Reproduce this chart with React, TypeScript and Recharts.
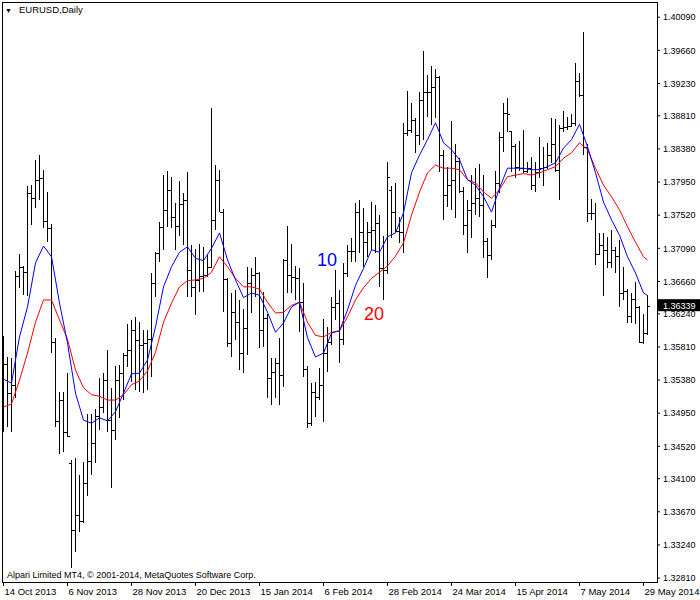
import React from 'react'
import {
  ComposedChart, Bar, Line, XAxis, YAxis, ReferenceLine, ReferenceDot,
} from 'recharts'

const FONT = '"Liberation Sans", Arial, sans-serif'

// date labels sit every 16 bars
const tickBars = [0, 16, 32, 48, 64, 80, 96, 112, 128, 144, 160]
const tickDates = [
  '14 Oct 2013', '6 Nov 2013', '28 Nov 2013', '20 Dec 2013', '15 Jan 2014', '6 Feb 2014',
  '28 Feb 2014', '24 Mar 2014', '15 Apr 2014', '7 May 2014', '29 May 2014',
]
const priceTicks = [
  1.40090, 1.39660, 1.39230, 1.38810, 1.38380, 1.37950, 1.37520, 1.37090, 1.36660,
  1.36240, 1.35810, 1.35380, 1.34950, 1.34520, 1.34100, 1.33670, 1.33240, 1.32810,
]
const lastPrice = 1.36339

const opens = [
  1.3512, 1.3559, 1.3521, 1.3532, 1.3673, 1.3685, 1.3678, 1.3781, 1.3774, 1.3798,
  1.3800, 1.3744, 1.3735, 1.3587, 1.3485, 1.3512, 1.3471, 1.3430, 1.3343, 1.3363,
  1.3355, 1.3404, 1.3433, 1.3456, 1.3491, 1.3503, 1.3538, 1.3486, 1.3473, 1.3538,
  1.3547, 1.3571, 1.3577, 1.3603, 1.3590, 1.3584, 1.3586, 1.3591, 1.3664, 1.3703,
  1.3737, 1.3759, 1.3785, 1.3750, 1.3738, 1.3767, 1.3772, 1.3681, 1.3659, 1.3668,
  1.3673, 1.3674, 1.3685, 1.3746, 1.3798, 1.3756, 1.3669, 1.3586, 1.3626, 1.3613,
  1.3573, 1.3606, 1.3664, 1.3674, 1.3677, 1.3603, 1.3619, 1.3541, 1.3548, 1.3560,
  1.3545, 1.3694, 1.3674, 1.3672, 1.3670, 1.3639, 1.3552, 1.3482, 1.3523, 1.3516,
  1.3532, 1.3573, 1.3587, 1.3633, 1.3638, 1.3591, 1.3677, 1.3706, 1.3706, 1.3756,
  1.3730, 1.3717, 1.3730, 1.3733, 1.3742, 1.3683, 1.3681, 1.3785, 1.3756, 1.3731,
  1.3730, 1.3859, 1.3863, 1.3876, 1.3856, 1.3902, 1.3912, 1.3912, 1.3918, 1.3931,
  1.3830, 1.3778, 1.3791, 1.3798, 1.3822, 1.3783, 1.3739, 1.3759, 1.3768, 1.3774,
  1.3765, 1.3719, 1.3700, 1.3739, 1.3794, 1.3854, 1.3885, 1.3861, 1.3842, 1.3815,
  1.3813, 1.3809, 1.3813, 1.3791, 1.3808, 1.3813, 1.3815, 1.3830, 1.3844, 1.3811,
  1.3865, 1.3866, 1.3868, 1.3872, 1.3926, 1.3908, 1.3841, 1.3755, 1.3755, 1.3702,
  1.3713, 1.3707, 1.3691, 1.3707, 1.3699, 1.3651, 1.3654, 1.3621, 1.3643, 1.3633,
  1.3587, 1.3599,
]
const highs = [
  1.3595, 1.3568, 1.3567, 1.3680, 1.3702, 1.3686, 1.3790, 1.3791, 1.3824, 1.3830,
  1.3811, 1.3782, 1.3740, 1.3592, 1.3523, 1.3523, 1.3547, 1.3434, 1.3437, 1.3415,
  1.3432, 1.3494, 1.3494, 1.3500, 1.3541, 1.3547, 1.3577, 1.3528, 1.3556, 1.3558,
  1.3573, 1.3611, 1.3616, 1.3620, 1.3613, 1.3603, 1.3603, 1.3677, 1.3704, 1.3743,
  1.3804, 1.3809, 1.3802, 1.3768, 1.3796, 1.3781, 1.3808, 1.3713, 1.3708, 1.3715,
  1.3711, 1.3700, 1.3891, 1.3817, 1.3811, 1.3760, 1.3670, 1.3651, 1.3655, 1.3642,
  1.3630, 1.3685, 1.3683, 1.3698, 1.3678, 1.3652, 1.3624, 1.3567, 1.3567, 1.3593,
  1.3695, 1.3738, 1.3715, 1.3686, 1.3683, 1.3664, 1.3556, 1.3534, 1.3536, 1.3554,
  1.3617, 1.3607, 1.3646, 1.3681, 1.3655, 1.3690, 1.3713, 1.3722, 1.3768, 1.3772,
  1.3761, 1.3743, 1.3769, 1.3765, 1.3752, 1.3725, 1.3821, 1.3790, 1.3794, 1.3750,
  1.3872, 1.3913, 1.3898, 1.3878, 1.3912, 1.3965, 1.3934, 1.3946, 1.3942, 1.3933,
  1.3837, 1.3815, 1.3874, 1.3844, 1.3826, 1.3789, 1.3772, 1.3804, 1.3813, 1.3818,
  1.3804, 1.3722, 1.3746, 1.3809, 1.3860, 1.3898, 1.3904, 1.3861, 1.3845, 1.3848,
  1.3863, 1.3821, 1.3828, 1.3821, 1.3854, 1.3841, 1.3846, 1.3878, 1.3877, 1.3869,
  1.3887, 1.3879, 1.3883, 1.3950, 1.3937, 1.3990, 1.3845, 1.3773, 1.3768, 1.3729,
  1.3729, 1.3724, 1.3733, 1.3711, 1.3720, 1.3685, 1.3656, 1.3651, 1.3665, 1.3634,
  1.3624, 1.3648,
]
const lows = [
  1.3471, 1.3477, 1.3471, 1.3515, 1.3658, 1.3648, 1.3647, 1.3739, 1.3761, 1.3772,
  1.3735, 1.3717, 1.3573, 1.3477, 1.3442, 1.3445, 1.3464, 1.3294, 1.3315, 1.3341,
  1.3352, 1.3388, 1.3415, 1.3430, 1.3473, 1.3495, 1.3471, 1.3398, 1.3460, 1.3489,
  1.3512, 1.3555, 1.3536, 1.3525, 1.3523, 1.3521, 1.3525, 1.3542, 1.3646, 1.3691,
  1.3707, 1.3737, 1.3735, 1.3707, 1.3725, 1.3713, 1.3646, 1.3646, 1.3622, 1.3652,
  1.3652, 1.3672, 1.3683, 1.3733, 1.3756, 1.3626, 1.3581, 1.3568, 1.3590, 1.3551,
  1.3547, 1.3571, 1.3625, 1.3646, 1.3580, 1.3581, 1.3515, 1.3506, 1.3515, 1.3506,
  1.3529, 1.3651, 1.3651, 1.3642, 1.3600, 1.3542, 1.3476, 1.3478, 1.3490, 1.3512,
  1.3484, 1.3548, 1.3584, 1.3616, 1.3560, 1.3584, 1.3672, 1.3691, 1.3691, 1.3703,
  1.3685, 1.3698, 1.3707, 1.3703, 1.3659, 1.3642, 1.3676, 1.3722, 1.3729, 1.3716,
  1.3703, 1.3855, 1.3859, 1.3833, 1.3843, 1.3850, 1.3879, 1.3869, 1.3878, 1.3808,
  1.3746, 1.3763, 1.3759, 1.3748, 1.3781, 1.3726, 1.3703, 1.3722, 1.3752, 1.3750,
  1.3696, 1.3670, 1.3694, 1.3735, 1.3781, 1.3834, 1.3860, 1.3808, 1.3800, 1.3809,
  1.3807, 1.3807, 1.3785, 1.3782, 1.3800, 1.3790, 1.3812, 1.3820, 1.3808, 1.3772,
  1.3860, 1.3863, 1.3866, 1.3868, 1.3905, 1.3830, 1.3743, 1.3746, 1.3687, 1.3700,
  1.3647, 1.3683, 1.3683, 1.3677, 1.3633, 1.3642, 1.3612, 1.3612, 1.3611, 1.3586,
  1.3585, 1.3596,
]
const closes = [
  1.3559, 1.3521, 1.3532, 1.3673, 1.3685, 1.3678, 1.3781, 1.3774, 1.3798, 1.3800,
  1.3744, 1.3735, 1.3587, 1.3485, 1.3512, 1.3471, 1.3465, 1.3343, 1.3363, 1.3355,
  1.3404, 1.3433, 1.3456, 1.3491, 1.3503, 1.3538, 1.3486, 1.3473, 1.3538, 1.3547,
  1.3571, 1.3577, 1.3603, 1.3590, 1.3584, 1.3586, 1.3591, 1.3664, 1.3703, 1.3737,
  1.3759, 1.3785, 1.3750, 1.3738, 1.3767, 1.3772, 1.3681, 1.3659, 1.3668, 1.3673,
  1.3674, 1.3685, 1.3746, 1.3798, 1.3756, 1.3669, 1.3586, 1.3626, 1.3613, 1.3573,
  1.3606, 1.3664, 1.3674, 1.3677, 1.3603, 1.3619, 1.3541, 1.3548, 1.3560, 1.3545,
  1.3694, 1.3674, 1.3672, 1.3670, 1.3639, 1.3552, 1.3482, 1.3523, 1.3516, 1.3532,
  1.3573, 1.3587, 1.3633, 1.3638, 1.3591, 1.3677, 1.3706, 1.3706, 1.3756, 1.3730,
  1.3717, 1.3730, 1.3733, 1.3742, 1.3683, 1.3681, 1.3802, 1.3756, 1.3731, 1.3730,
  1.3859, 1.3863, 1.3876, 1.3856, 1.3902, 1.3912, 1.3912, 1.3918, 1.3931, 1.3830,
  1.3778, 1.3791, 1.3798, 1.3822, 1.3783, 1.3739, 1.3759, 1.3768, 1.3774, 1.3765,
  1.3719, 1.3700, 1.3739, 1.3794, 1.3854, 1.3885, 1.3883, 1.3842, 1.3815, 1.3813,
  1.3809, 1.3813, 1.3791, 1.3808, 1.3813, 1.3815, 1.3830, 1.3844, 1.3811, 1.3865,
  1.3866, 1.3868, 1.3872, 1.3926, 1.3908, 1.3841, 1.3755, 1.3755, 1.3702, 1.3713,
  1.3707, 1.3691, 1.3707, 1.3699, 1.3651, 1.3654, 1.3621, 1.3643, 1.3633, 1.3587,
  1.3599, 1.36339,
]

// moving averages read every second bar (0, 2, ... 160) plus the last bar
const ma10 = [
  1.3539, 1.3534, 1.3594, 1.3633, 1.3690, 1.3712, 1.3698, 1.3638, 1.3586, 1.3521,
  1.3486, 1.3482, 1.3489, 1.3485, 1.3497, 1.3521, 1.3546, 1.3547, 1.3564, 1.3607,
  1.3659, 1.3685, 1.3704, 1.3711, 1.3696, 1.3693, 1.3709, 1.3729, 1.3694, 1.3668,
  1.3645, 1.3651, 1.3648, 1.3626, 1.3600, 1.3612, 1.3633, 1.3639, 1.3593, 1.3568,
  1.3573, 1.3599, 1.3602, 1.3629, 1.3661, 1.3683, 1.3707, 1.3704, 1.3724, 1.3729,
  1.3755, 1.3807, 1.3830, 1.3850, 1.3872, 1.3846, 1.3837, 1.3824, 1.3798, 1.3791,
  1.3776, 1.3756, 1.3787, 1.3813, 1.3813, 1.3813, 1.3811, 1.3811, 1.3815, 1.3820,
  1.3839, 1.3850, 1.3870, 1.3841, 1.3807, 1.3769, 1.3746, 1.3726, 1.3698, 1.3677,
  1.3651, 1.3648,
]
const ma20 = [
  1.3503, 1.3507, 1.3538, 1.3573, 1.3613, 1.3642, 1.3642, 1.3616, 1.3591, 1.3551,
  1.3528, 1.3519, 1.3517, 1.3512, 1.3512, 1.3519, 1.3532, 1.3537, 1.3550, 1.3574,
  1.3613, 1.3638, 1.3659, 1.3667, 1.3668, 1.3670, 1.3678, 1.3698, 1.3685, 1.3670,
  1.3659, 1.3659, 1.3656, 1.3639, 1.3625, 1.3626, 1.3635, 1.3639, 1.3613, 1.3596,
  1.3594, 1.3600, 1.3602, 1.3620, 1.3642, 1.3658, 1.3670, 1.3678, 1.3686, 1.3699,
  1.3716, 1.3752, 1.3782, 1.3807, 1.3817, 1.3813, 1.3813, 1.3811, 1.3798, 1.3794,
  1.3782, 1.3774, 1.3785, 1.3802, 1.3804, 1.3806, 1.3804, 1.3807, 1.3811, 1.3815,
  1.3826, 1.3833, 1.3846, 1.3837, 1.3813, 1.3791, 1.3776, 1.3759, 1.3737, 1.3717,
  1.3698, 1.3694,
]

const rows: any[] = closes.map((c, i) => ({
  bar: i,
  open: opens[i],
  high: highs[i],
  low: lows[i],
  close: c,
  hl: [lows[i], highs[i]],
  ma10: null,
  ma20: null,
}))
ma10.forEach((v, k) => {
  const b = k < 81 ? k * 2 : closes.length - 1
  rows[b].ma10 = v
  rows[b].ma20 = ma20[k]
})

function OhlcShape(props: any) {
  const { x, y, width, height, payload } = props
  if (x == null || y == null || !payload) return null
  const col = Math.floor(x + width / 2)
  const cx = col + 0.5
  const span = payload.high - payload.low
  const py = (v: number) => (span > 0 ? y + ((payload.high - v) / span) * height : y)
  const yo = Math.round(py(payload.open)) + 0.5
  const yc = Math.round(py(payload.close)) + 0.5
  return (
    <g stroke="#000" strokeWidth={1} shapeRendering="crispEdges">
      <line x1={cx} x2={cx} y1={y} y2={y + Math.max(height, 1)} />
      <line x1={col - 2} x2={col} y1={yo} y2={yo} />
      <line x1={col + 1} x2={col + 3} y1={yc} y2={yc} />
    </g>
  )
}

function DateTick({ x, y, payload }: any) {
  const k = tickBars.indexOf(payload.value)
  return (
    <text x={x + 1} y={y + 7} fontSize={9.5} fontFamily={FONT} fill="#000" textAnchor="start">
      {k >= 0 ? tickDates[k] : ''}
    </text>
  )
}

function PriceBox({ viewBox }: any) {
  if (!viewBox) return null
  const left = viewBox.x + viewBox.width
  return (
    <g>
      <rect x={left} y={viewBox.y - 7} width={43} height={12} fill="#000" />
      <text x={left + 6} y={viewBox.y + 2.5} fontSize={9} fontFamily={FONT} fill="#fff">
        {lastPrice.toFixed(5)}
      </text>
    </g>
  )
}

export default function App() {
  return (
    <div style={{ position: 'absolute', left: 0, top: 0, width: 700, height: 600, background: '#fff' }}>
      <ComposedChart
        width={700}
        height={600}
        data={rows}
        margin={{ top: 2, right: 0, bottom: 0, left: 2 }}
      >
        <XAxis
          dataKey="bar"
          type="number"
          domain={[-0.375, 163.375]}
          allowDataOverflow
          ticks={tickBars}
          interval={0}
          tick={<DateTick />}
          tickSize={4}
          tickLine={{ stroke: '#000' }}
          axisLine={false}
          height={18}
        />
        <YAxis
          orientation="right"
          type="number"
          domain={[1.32759, 1.40287]}
          allowDataOverflow
          ticks={priceTicks}
          interval={0}
          tickFormatter={(v: number) => v.toFixed(5)}
          tick={{ fontSize: 9, fontFamily: FONT, fill: '#000', textAnchor: 'start' }}
          tickSize={3}
          tickMargin={3}
          tickLine={{ stroke: '#000' }}
          axisLine={false}
          width={43}
        />
        <Bar dataKey="hl" barSize={3} isAnimationActive={false} shape={(p: any) => <OhlcShape {...p} />} />
        <Line type="linear" dataKey="ma20" stroke="#ff0000" strokeWidth={1} dot={false} connectNulls isAnimationActive={false} />
        <Line type="linear" dataKey="ma10" stroke="#0000ff" strokeWidth={1} dot={false} connectNulls isAnimationActive={false} />
        <ReferenceLine y={lastPrice} stroke="none" label={<PriceBox />} />
        <ReferenceDot x={80.9} y={1.3694} r={0} fill="none" stroke="none"
          label={{ value: '10', position: 'center', fill: '#0000ff', fontSize: 18, fontFamily: FONT }} />
        <ReferenceDot x={92.6} y={1.3624} r={0} fill="none" stroke="none"
          label={{ value: '20', position: 'center', fill: '#ff0000', fontSize: 18, fontFamily: FONT }} />
      </ComposedChart>
      <div style={{ position: 'absolute', left: 2, top: 2, width: 654, height: 579, border: '1px solid #000', pointerEvents: 'none' }} />
      <div style={{ position: 'absolute', left: 5, top: 4, fontSize: 9.5, fontFamily: FONT, color: '#000', whiteSpace: 'nowrap', lineHeight: '12px' }}>
        <span style={{ fontSize: 7, marginRight: 7 }}>▼</span>EURUSD,Daily
      </div>
      <div style={{ position: 'absolute', left: 7, top: 569, fontSize: 9, fontFamily: FONT, color: '#000', whiteSpace: 'nowrap', lineHeight: '12px' }}>
        Alpari Limited MT4, © 2001-2014, MetaQuotes Software Corp.
      </div>
    </div>
  )
}
